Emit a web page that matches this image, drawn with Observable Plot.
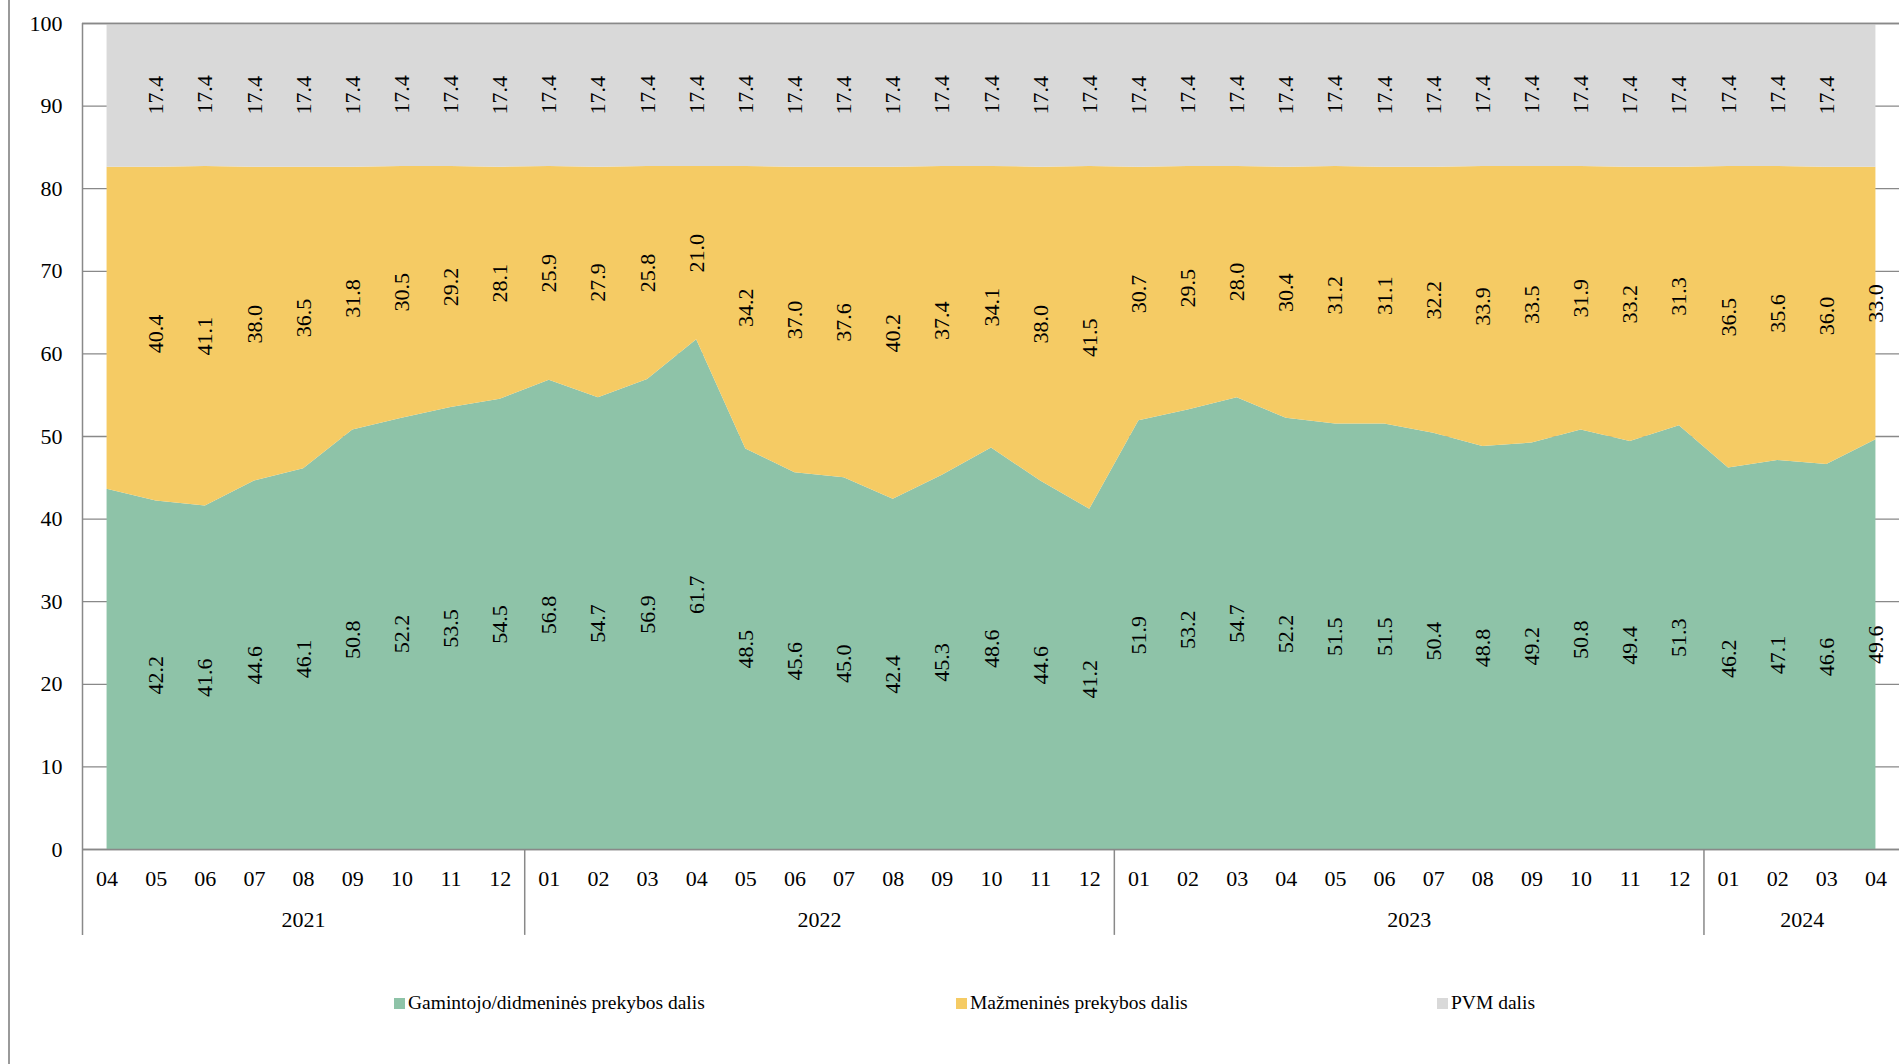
<!DOCTYPE html>
<html><head><meta charset="utf-8">
<script src="https://cdn.jsdelivr.net/npm/d3@7"></script>
<script src="https://cdn.jsdelivr.net/npm/@observablehq/plot@0.6"></script>
<style>
body{margin:0;background:#fff;}
#wrap{position:relative;width:1899px;height:1064px;overflow:hidden;font-family:"Liberation Serif","Times New Roman",serif;}
#border{position:absolute;left:8px;top:0;width:2px;height:1064px;background:#9a9a9a;}
#chart{position:absolute;left:0;top:0;}
#legend{position:absolute;top:993px;left:0;width:1899px;height:20px;font-size:19.5px;color:#000;}
.item{position:absolute;top:0;height:20px;display:flex;align-items:center;white-space:nowrap;}
.sw{width:11px;height:11px;margin-right:3px;}
</style></head>
<body>
<div id="wrap"><div id="border"></div><div id="chart"></div><div id="legend"></div></div>
<script>
const monthLabels = ["04","05","06","07","08","09","10","11","12",
  "01","02","03","04","05","06","07","08","09","10","11","12",
  "01","02","03","04","05","06","07","08","09","10","11","12",
  "01","02","03","04"];
const yearLabels = ["2021","2022","2023","2024"];
const yearMonthCounts = [9,12,12,4];
const seriesNames = ["Gamintojo/didmeninės prekybos dalis","Mažmeninės prekybos dalis","PVM dalis"];
const seriesColors = ["#8ec3a8","#f5cb64","#d9d9d9"];
const producerShare = [43.6,42.2,41.6,44.6,46.1,50.8,52.2,53.5,54.5,
  56.8,54.7,56.9,61.7,48.5,45.6,45.0,42.4,45.3,48.6,44.6,41.2,
  51.9,53.2,54.7,52.2,51.5,51.5,50.4,48.8,49.2,50.8,49.4,51.3,
  46.2,47.1,46.6,49.6];
const retailShare = [39.0,40.4,41.1,38.0,36.5,31.8,30.5,29.2,28.1,
  25.9,27.9,25.8,21.0,34.2,37.0,37.6,40.2,37.4,34.1,38.0,41.5,
  30.7,29.5,28.0,30.4,31.2,31.1,32.2,33.9,33.5,31.9,33.2,31.3,
  36.5,35.6,36.0,33.0];
const vatShare = [17.4,17.4,17.4,17.4,17.4,17.4,17.4,17.4,17.4,
  17.4,17.4,17.4,17.4,17.4,17.4,17.4,17.4,17.4,17.4,17.4,17.4,
  17.4,17.4,17.4,17.4,17.4,17.4,17.4,17.4,17.4,17.4,17.4,17.4,
  17.4,17.4,17.4,17.4];
const yTicks = [0,10,20,30,40,50,60,70,80,90,100];

const seriesValues = [producerShare, retailShare, vatShare];
const rows = [];
seriesValues.forEach((vals, s) => vals.forEach((v, i) => rows.push({i, s, series: seriesNames[s], value: v})));
const lastIndex = monthLabels.length - 1;
// labels: none at the first month; no VAT label at the last month
const labelled = d => d.i > 0 && !(d.s === 2 && d.i === lastIndex);

// year group geometry (in index units)
const boundaries = [];
const centers = [];
let start = 0;
yearMonthCounts.forEach((c, k) => {
  centers.push(start + (c - 1) / 2);
  start += c;
  if (k < yearMonthCounts.length - 1) boundaries.push(start - 0.5);
});
const belowAxis = -10.4;
const axisColor = "#898989";

const chart = Plot.plot({
  width: 1899,
  height: 960,
  marginLeft: 82,
  marginRight: -1,
  marginTop: 23,
  marginBottom: 111,
  style: {fontFamily: "'Liberation Serif','Times New Roman',serif", fontSize: "22px", color: "#000", background: "transparent", overflow: "visible"},
  x: {domain: [-0.5, monthLabels.length - 0.5]},
  y: {domain: [0, 100]},
  color: {domain: seriesNames, range: seriesColors},
  marks: [
    Plot.ruleY(yTicks, {stroke: axisColor, strokeWidth: 1.3}),
    Plot.areaY(rows, {x: "i", y: "value", z: "series", fill: "series", curve: "linear"}),
    Plot.text(rows, Plot.stackY({x: "i", y: "value", z: "series", filter: labelled,
      text: d => d.value.toFixed(1), rotate: -90, fill: "#000", fontSize: 22})),
    Plot.ruleY([0, 100], {stroke: axisColor, strokeWidth: 1.5}),
    Plot.ruleX([-0.5], {y1: 100, y2: belowAxis, stroke: axisColor, strokeWidth: 1.5}),
    Plot.ruleX(boundaries, {y1: 0, y2: belowAxis, stroke: axisColor, strokeWidth: 1.5}),
    Plot.axisY(yTicks, {tickSize: 0, tickPadding: 20, label: null, tickFormat: d => String(d), fontSize: 22}),
    Plot.axisX(d3.range(monthLabels.length), {tickSize: 0, tickPadding: 21, label: null, tickFormat: i => monthLabels[i], fontSize: 22}),
    Plot.axisX(centers, {tickSize: 0, tickPadding: 62, label: null, tickFormat: d => yearLabels[centers.indexOf(d)], fontSize: 22})
  ]
});
document.getElementById("chart").appendChild(chart);

const legend = document.getElementById("legend");
const legendLeft = [394, 956, 1437];
seriesNames.forEach((name, k) => {
  const it = document.createElement("div");
  it.className = "item";
  it.style.left = legendLeft[k] + "px";
  const sw = document.createElement("div");
  sw.className = "sw";
  sw.style.background = seriesColors[k];
  const tx = document.createElement("span");
  tx.textContent = name;
  it.appendChild(sw); it.appendChild(tx);
  legend.appendChild(it);
});
</script>
</body></html>
